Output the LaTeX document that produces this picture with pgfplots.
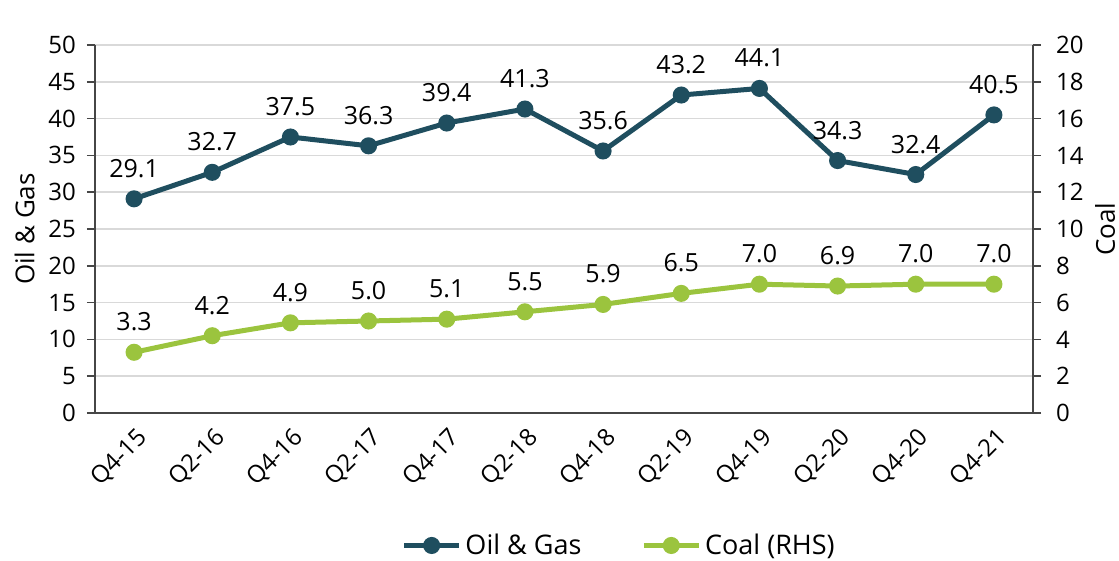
\documentclass[border=0pt]{standalone}
\usepackage{pgfplots}
\pgfplotsset{compat=1.18}
\usepackage{fontspec}
\setmainfont{Open Sans}
\definecolor{oil}{RGB}{31,78,95}
\definecolor{coal}{RGB}{155,196,62}
\definecolor{gridc}{RGB}{217,217,217}
\definecolor{axc}{RGB}{70,70,70}
\pgfplotsset{
  common/.style={
    at={(0,0)}, anchor=south west,
    scale only axis, width=469pt, height=184pt,
    xmin=-0.5, xmax=11.5,
    tick align=outside, major tick length=4pt,
    axis line style={draw=axc, line width=0.8pt},
    y tick style={draw=axc, line width=0.8pt},
    x tick style={draw=none},
    tick label style={font=\fontsize{12}{14}\selectfont},
    label style={font=\fontsize{13}{15}\selectfont},
    /pgf/number format/assume math mode=true,
    nodes near coords={\pgfmathprintnumber[fixed,fixed zerofill,precision=1]{\pgfplotspointmeta}},
    nodes near coords style={anchor=south, yshift=6pt, text=black, font=\fontsize{12.5}{14}\selectfont},
    legend image code/.code={
      \draw[mark repeat=2,mark phase=2,#1] plot coordinates {(0cm,0cm)(0.48cm,0cm)(0.96cm,0cm)};
    },
  }
}
\begin{document}
\begin{tikzpicture}[font=\fontsize{12}{14}\selectfont]
\useasboundingbox (-47.5pt,-74pt) rectangle (512pt,206.5pt);
\begin{axis}[
  common,
  ymin=0, ymax=50, ytick={0,5,...,50},
  xtick={0,...,11},
  xticklabels={Q4-15,Q2-16,Q4-16,Q2-17,Q4-17,Q2-18,Q4-18,Q2-19,Q4-19,Q2-20,Q4-20,Q4-21},
  xticklabel style={rotate=45, anchor=east, yshift=-8pt, xshift=2pt},
  yticklabel style={xshift=-2pt},
  axis x line*=bottom, axis y line*=left,
  ymajorgrids, grid style={gridc, line width=0.8pt},
  ylabel={Oil \& Gas},
  ylabel style={at={(axis description cs:-0.075,0.5)}, anchor=center},
]
\addplot[oil, line width=2.5pt, mark=*, mark size=3pt, mark options={solid}] coordinates {
(0,29.1)(1,32.7)(2,37.5)(3,36.3)(4,39.4)(5,41.3)(6,35.6)(7,43.2)(8,44.1)(9,34.3)(10,32.4)(11,40.5)};
\node[anchor=center, font=\fontsize{12.3}{14}\selectfont] at (axis description cs:0.887,1.068) {CDN BILLION};
\end{axis}
\begin{axis}[
  common,
  ymin=0, ymax=20, ytick={0,2,...,20},
  axis x line=none, axis y line*=right,
  yticklabel style={xshift=4pt},
  ylabel={Coal},
  ylabel style={at={(axis description cs:1.077,0.5)}, anchor=center},
  legend columns=2,
  legend style={at={(axis description cs:0.56,-0.36)}, anchor=center, draw=none, fill=none,
    font=\fontsize{13.5}{15}\selectfont,
    /tikz/every even column/.append style={column sep=28pt}},
]
\addlegendimage{oil, line width=2.5pt, mark=*, mark size=3pt}
\addlegendentry{Oil \& Gas}
\addplot[coal, line width=2.5pt, mark=*, mark size=3pt] coordinates {
(0,3.3)(1,4.2)(2,4.9)(3,5.0)(4,5.1)(5,5.5)(6,5.9)(7,6.5)(8,7.0)(9,6.9)(10,7.0)(11,7.0)};
\addlegendentry{Coal (RHS)}
\end{axis}
\end{tikzpicture}
\end{document}
